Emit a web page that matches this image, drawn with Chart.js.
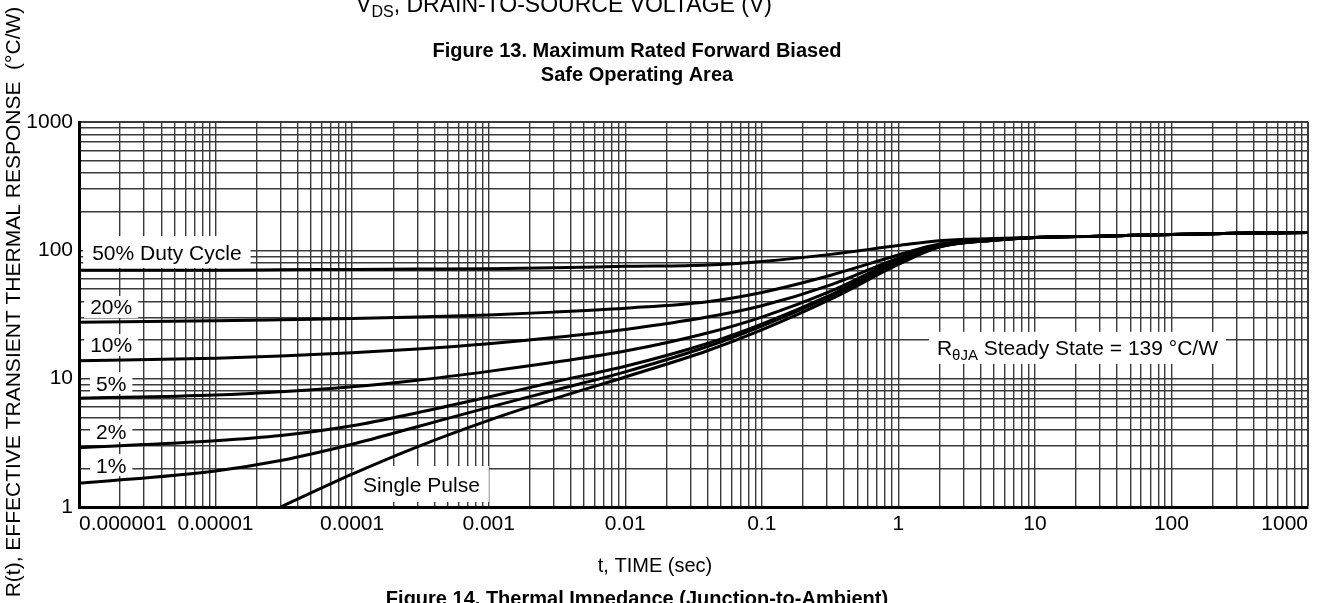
<!DOCTYPE html>
<html>
<head>
<meta charset="utf-8">
<script src="https://cdn.jsdelivr.net/npm/chart.js@4.4.0/dist/chart.umd.min.js"></script>
<style>
  html, body { margin: 0; padding: 0; background: #fff; }
  #wrap { width: 1330px; height: 603px; position: relative; }
</style>
</head>
<body>
<div id="wrap"><canvas id="zthChart"></canvas></div>
<script>
const FONT = '"Liberation Sans", Arial, Helvetica, sans-serif';

// tick labels
const xTickLabels = ['0.000001', '0.00001', '0.0001', '0.001', '0.01', '0.1', '1', '10', '100', '1000'];
const yTickLabels = ['1', '10', '100', '1000'];

// time axis (sec) shared by all curves
const timeSec = [1e-6, 1e-5, 3e-5, 1e-4, 3e-4, 1e-3, 3e-3, 0.01, 0.04, 0.1, 0.32, 1, 2, 5, 10, 30, 100, 300, 1000];

// R(t) in °C/W
const duty50 = [70, 70, 70.5, 71, 71.5, 72, 73, 75, 77, 82, 93, 109, 119, 123.5, 126, 129, 133, 136, 138];
const duty20 = [27.5, 28.3, 28.8, 29.4, 30.2, 31.4, 33, 35.4, 39.8, 47, 64, 92, 112, 121, 126, 129, 133, 136, 138];
const duty10 = [13.8, 14.45, 15.0, 15.9, 17.0, 18.7, 20.9, 24.2, 30.2, 37, 53.8, 87, 109, 120.5, 126, 129, 133, 136, 138];
const duty5 = [7.03, 7.47, 7.92, 8.66, 9.73, 11.4, 13.4, 16.4, 22.7, 30.2, 48, 84.5, 108, 120.5, 126, 129, 133, 136, 138];
const duty2 = [2.9, 3.28, 3.6, 4.29, 5.42, 7.2, 9.42, 12.5, 18.8, 26.6, 44.9, 81.9, 107, 120, 126, 129, 133, 136, 138];
const duty1 = [1.53, 1.91, 2.3, 3.08, 4.22, 5.98, 8.09, 11.3, 17.8, 25.7, 43.9, 81, 107, 120, 126, 129, 133, 136, 138];
const singlePulse = [null, null, 1.0, 1.8, 2.94, 4.73, 6.95, 10.3, 16.5, 24.0, 41.6, 77.6, 106, 120, 126, 129, 133, 136, 138];

const seriesList = [duty50, duty20, duty10, duty5, duty2, duty1, singlePulse];
const seriesNames = ['50%', '20%', '10%', '5%', '2%', '1%', 'Single Pulse'];

// labels sitting on the grid, anchored in data units (t, R)
const curveNotes = [
  { parts: ['50% Duty Cycle'], t: 4.4e-6, r: 97, padX: 9, halfH: 16 },
  { parts: ['20%'], t: 1.72e-6, r: 36.2, padX: 6, halfH: 11 },
  { parts: ['10%'], t: 1.72e-6, r: 18.3, padX: 6, halfH: 11 },
  { parts: ['5%'], t: 1.72e-6, r: 9.25, padX: 6, halfH: 11 },
  { parts: ['2%'], t: 1.72e-6, r: 3.91, padX: 6, halfH: 11 },
  { parts: ['1%'], t: 1.72e-6, r: 2.12, padX: 6, halfH: 11 },
  { parts: ['Single Pulse'], t: 3.22e-4, r: 1.51, padX: 9, halfH: 18 },
  { parts: ['R', { s: '\u03B8JA', size: 15, dy: 5 }, ' Steady State = 139 \u00B0C/W'], t: 20.5, r: 17.4, padX: 8, halfH: 16 }
];

function isDecade(v) {
  const e = Math.log10(v);
  return Math.abs(e - Math.round(e)) < 1e-6;
}

function logGrid(minExp, maxExp) {
  const out = [];
  for (let e = minExp; e < maxExp; e++) {
    for (let m = 1; m <= 9; m++) out.push(m * Math.pow(10, e));
  }
  out.push(Math.pow(10, maxExp));
  return out;
}

function richWidth(ctx, parts, base) {
  let w = 0;
  parts.forEach(p => {
    const o = typeof p === 'string' ? { s: p } : p;
    ctx.font = (o.size || base) + 'px ' + FONT;
    w += ctx.measureText(o.s).width;
  });
  return w;
}

function drawRich(ctx, parts, x, y, base) {
  parts.forEach(p => {
    const o = typeof p === 'string' ? { s: p } : p;
    ctx.font = (o.size || base) + 'px ' + FONT;
    ctx.fillText(o.s, x, y + (o.dy || 0));
    x += ctx.measureText(o.s).width;
  });
}

const noteBoxes = {
  id: 'noteBoxes',
  beforeDatasetsDraw(chart) {
    const { ctx, scales: { x, y } } = chart;
    ctx.save();
    ctx.textAlign = 'left';
    ctx.textBaseline = 'alphabetic';
    curveNotes.forEach(n => {
      const cx = x.getPixelForValue(n.t);
      const cy = y.getPixelForValue(n.r);
      const w = richWidth(ctx, n.parts, 21);
      ctx.fillStyle = '#fff';
      ctx.fillRect(cx - w / 2 - n.padX, cy - n.halfH, w + 2 * n.padX, 2 * n.halfH);
      ctx.fillStyle = '#000';
      drawRich(ctx, n.parts, cx - w / 2, cy + 7.5, 21);
    });
    ctx.restore();
  }
};

// the bits of page text around the plot
const pageText = {
  id: 'pageText',
  afterDraw(chart) {
    const ctx = chart.ctx;
    ctx.save();
    ctx.fillStyle = '#000';
    ctx.textBaseline = 'alphabetic';
    ctx.textAlign = 'left';

    const vds = ['V', { s: 'DS', size: 16, dy: 5 }, ', DRAIN-TO-SOURCE VOLTAGE (V)'];
    drawRich(ctx, vds, 564 - richWidth(ctx, vds, 23) / 2, 12, 23);

    ctx.textAlign = 'center';
    ctx.font = 'bold 20px ' + FONT;
    ctx.fillText('Figure 13. Maximum Rated Forward Biased', 637, 57);
    ctx.fillText('Safe Operating Area', 637, 81);
    ctx.fillText('Figure 14. Thermal Impedance (Junction-to-Ambient)', 637, 605);

    ctx.font = '20px ' + FONT;
    ctx.fillText('t, TIME (sec)', 655, 572);

    ctx.translate(14, 302);
    ctx.rotate(-Math.PI / 2);
    ctx.textBaseline = 'middle';
    ctx.font = '21px ' + FONT;
    ctx.fillText('R(t), EFFECTIVE TRANSIENT THERMAL RESPONSE  (\u00B0C/W)', 0, 0);
    ctx.restore();
  }
};

function createThermalChart() {
  const el = document.getElementById('zthChart');
  if (!el) return;

  const datasets = seriesList.map((arr, i) => ({
    label: seriesNames[i],
    data: timeSec.map((t, k) => ({ x: t, y: arr[k] })).filter(p => p.y !== null),
    borderColor: '#000',
    borderWidth: 3,
    pointRadius: 0,
    fill: false,
    cubicInterpolationMode: 'monotone'
  }));

  const gridWidth = ctx => (ctx.tick && ctx.tick.value >= 999 ? 2 : 1.4);

  new Chart(el, {
    type: 'line',
    data: { datasets },
    options: {
      responsive: true,
      maintainAspectRatio: false,
      animation: false,
      events: [],
      layout: { padding: { top: 122, right: 22, bottom: 0, left: 0 } },
      plugins: {
        legend: { display: false },
        tooltip: { enabled: false },
        title: { display: false }
      },
      scales: {
        x: {
          type: 'logarithmic',
          min: 1e-6,
          max: 1000,
          afterBuildTicks: s => { s.ticks = logGrid(-6, 3).map(v => ({ value: v })); },
          afterFit: s => { s.height = 96; },
          grid: { color: '#3a3a3a', lineWidth: gridWidth, drawTicks: false },
          border: { display: true, color: '#000', width: 3 },
          ticks: {
            autoSkip: false,
            maxRotation: 0,
            minRotation: 0,
            align: 'inner',
            padding: 5,
            color: '#000',
            font: { family: FONT, size: 21 },
            callback: v => (isDecade(v) ? xTickLabels[Math.round(Math.log10(v)) + 6] : '')
          }
        },
        y: {
          type: 'logarithmic',
          min: 1,
          max: 1000,
          afterBuildTicks: s => { s.ticks = logGrid(0, 3).map(v => ({ value: v })); },
          afterFit: s => { s.width = 79; },
          grid: { color: '#3a3a3a', lineWidth: gridWidth, drawTicks: false },
          border: { display: true, color: '#000', width: 3 },
          ticks: {
            autoSkip: false,
            padding: 6,
            color: '#000',
            font: { family: FONT, size: 21 },
            callback: v => (isDecade(v) ? yTickLabels[Math.round(Math.log10(v))] : '')
          }
        }
      }
    },
    plugins: [noteBoxes, pageText]
  });
}

document.addEventListener('DOMContentLoaded', () => {
  createThermalChart();
});
</script>
</body>
</html>
